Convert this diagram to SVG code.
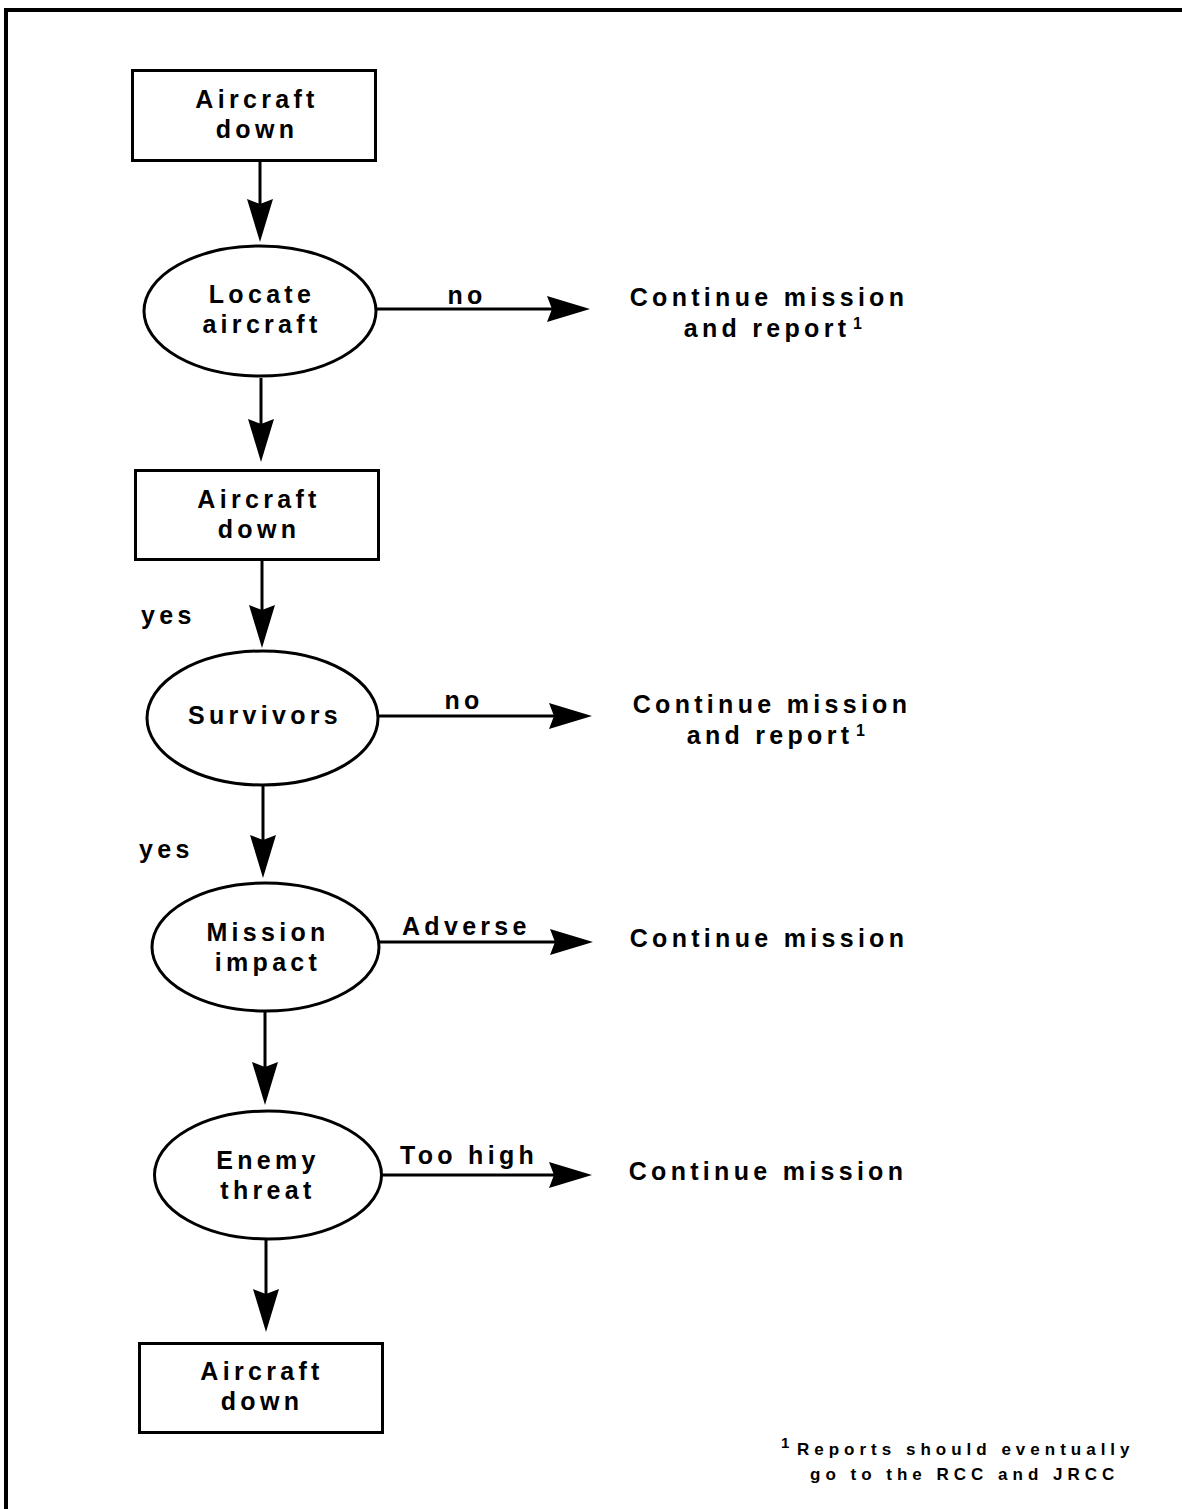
<svg xmlns="http://www.w3.org/2000/svg" width="1182" height="1509" viewBox="0 0 1182 1509">
<defs>
<style>
.shape{fill:#fff;stroke:#000;stroke-width:3}
.frame{fill:none;stroke:#000;stroke-width:4}
.t{font-family:"Liberation Sans",Arial,sans-serif;font-weight:bold;font-size:25px;letter-spacing:4.3px;fill:#000}
.tm{text-anchor:middle}
.sup{font-family:"Liberation Sans",Arial,sans-serif;font-weight:bold;font-size:16px;fill:#000}
.fn{font-family:"Liberation Sans",Arial,sans-serif;font-weight:bold;font-size:17px;letter-spacing:5px;fill:#000}
.conn line{stroke:#000;stroke-width:3;fill:none}
</style>
<marker id="ah" markerUnits="userSpaceOnUse" markerWidth="44" markerHeight="26" viewBox="0 0 44 26" refX="5" refY="13" orient="auto" overflow="visible">
<path d="M43,13 L0,0 L5,13 L0,26 Z" fill="#000"/>
</marker>
</defs>
<rect width="1182" height="1509" fill="#fff"/>
<path class="frame" d="M6,1509 V10 H1182"/>

<g id="connectors" class="conn">
<line x1="260" y1="162" x2="260" y2="204" marker-end="url(#ah)"/>
<line x1="261" y1="378" x2="261" y2="424" marker-end="url(#ah)"/>
<line x1="262" y1="561" x2="262" y2="610" marker-end="url(#ah)"/>
<line x1="263" y1="786" x2="263" y2="840" marker-end="url(#ah)"/>
<line x1="265" y1="1012" x2="265" y2="1067" marker-end="url(#ah)"/>
<line x1="266" y1="1240" x2="266" y2="1294" marker-end="url(#ah)"/>
<line x1="377" y1="309" x2="552" y2="309" marker-end="url(#ah)"/>
<line x1="379" y1="716" x2="554" y2="716" marker-end="url(#ah)"/>
<line x1="379" y1="942" x2="555" y2="942" marker-end="url(#ah)"/>
<line x1="382" y1="1175" x2="554" y2="1175" marker-end="url(#ah)"/>
</g>

<g id="node-aircraft-down-1">
<rect class="shape" x="132.5" y="70.5" width="243" height="90"/>
<text class="t tm" x="257" y="108">Aircraft</text>
<text class="t tm" x="257" y="138">down</text>
</g>

<g id="node-locate-aircraft">
<ellipse class="shape" cx="260" cy="311" rx="116" ry="65"/>
<text class="t tm" x="262" y="303">Locate</text>
<text class="t tm" x="262" y="333">aircraft</text>
</g>

<g id="label-no-1"><text class="t tm" x="467" y="304">no</text></g>

<g id="node-continue-report-1">
<text class="t tm" x="769" y="306">Continue mission</text>
<text class="t tm" x="767" y="337">and report</text>
<text class="sup" x="853" y="329">1</text>
</g>

<g id="node-aircraft-down-2">
<rect class="shape" x="135.5" y="470.5" width="243" height="89"/>
<text class="t tm" x="259" y="508">Aircraft</text>
<text class="t tm" x="259" y="538">down</text>
</g>

<g id="label-yes-1"><text class="t" x="141" y="624">yes</text></g>

<g id="node-survivors">
<ellipse class="shape" cx="262.5" cy="718" rx="115.5" ry="67"/>
<text class="t tm" x="265" y="724">Survivors</text>
</g>

<g id="label-no-2"><text class="t tm" x="464" y="709">no</text></g>

<g id="node-continue-report-2">
<text class="t tm" x="772" y="713">Continue mission</text>
<text class="t tm" x="770" y="744">and report</text>
<text class="sup" x="856" y="736">1</text>
</g>

<g id="label-yes-2"><text class="t" x="139" y="858">yes</text></g>

<g id="node-mission-impact">
<ellipse class="shape" cx="265.5" cy="947" rx="113.5" ry="64"/>
<text class="t tm" x="268" y="941">Mission</text>
<text class="t tm" x="268" y="971">impact</text>
</g>

<g id="label-adverse"><text class="t" x="402" y="935">Adverse</text></g>

<g id="node-continue-3">
<text class="t tm" x="769" y="947">Continue mission</text>
</g>

<g id="node-enemy-threat">
<ellipse class="shape" cx="268" cy="1175" rx="113.5" ry="64"/>
<text class="t tm" x="268" y="1169">Enemy</text>
<text class="t tm" x="268" y="1199">threat</text>
</g>

<g id="label-too-high"><text class="t" x="400" y="1164">Too high</text></g>

<g id="node-continue-4">
<text class="t tm" x="768" y="1180">Continue mission</text>
</g>

<g id="node-aircraft-down-3">
<rect class="shape" x="139.5" y="1343.5" width="243" height="89"/>
<text class="t tm" x="262" y="1380">Aircraft</text>
<text class="t tm" x="262" y="1410">down</text>
</g>

<g id="footnote">
<text class="sup" x="781" y="1448" style="font-size:15px">1</text>
<text class="fn" x="797" y="1455">Reports should eventually</text>
<text class="fn" x="810" y="1480">go to the RCC and JRCC</text>
</g>
</svg>
